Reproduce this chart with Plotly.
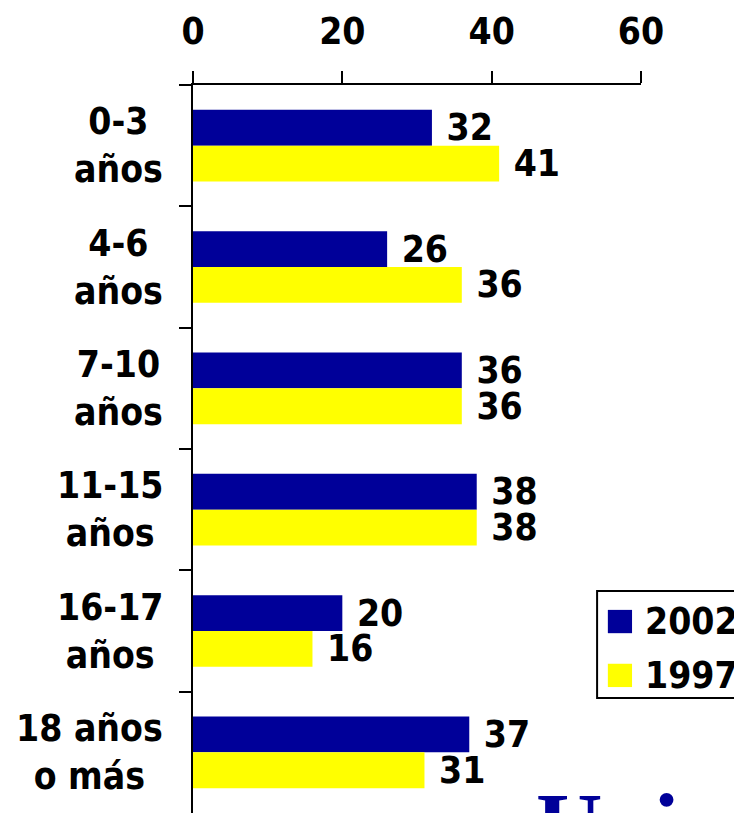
import plotly.graph_objects as go

# datos
categorias = ["0-3<br>años", "4-6<br>años", "7-10<br>años", "11-15<br>años",
              "16-17<br>años", "18 años<br>o más"]
series = ["2002", "1997"]
valores_2002 = [32, 26, 36, 38, 20, 37]
valores_1997 = [41, 36, 36, 38, 16, 31]
ticks_x = [0, 20, 40, 60]

AZUL = "#000099"
AMARILLO = "#FFFF00"
FUENTE = "DejaVu Sans Condensed, DejaVu Sans"
TAM = 37

fig = go.Figure()

for nombre, vals, color in [(series[0], valores_2002, AZUL), (series[1], valores_1997, AMARILLO)]:
    fig.add_trace(go.Bar(
        y=categorias, x=vals, orientation="h", name=nombre,
        marker=dict(color=color, line=dict(width=0)),
        text=vals, texttemplate=" %{x}", textposition="outside",
        textfont=dict(family=FUENTE, size=TAM, color="black", weight="bold"),
        constraintext="none", cliponaxis=False, showlegend=False,
    ))

# etiquetas de categoria centradas (multilinea)
for c in categorias:
    fig.add_annotation(xref="paper", x=0, xshift=-28, xanchor="right",
                       yref="y", y=c, text=c, showarrow=False, align="center",
                       font=dict(family=FUENTE, size=TAM, color="black", weight="bold"))

# leyenda manual
fig.add_shape(type="rect", xref="paper", yref="paper", x0=0.902, x1=1.3, y0=0.158, y1=0.305,
              line=dict(color="black", width=2), fillcolor="white", layer="above")
for i, (nombre, color) in enumerate([(series[0], AZUL), (series[1], AMARILLO)]):
    y0 = 0.247 - i * 0.074
    fig.add_shape(type="rect", xref="paper", yref="paper", x0=0.926, x1=0.980, y0=y0, y1=y0 + 0.032,
                  line=dict(width=0), fillcolor=color, layer="above")
    fig.add_annotation(xref="paper", yref="paper", x=1.005, xanchor="left", y=y0 + 0.016,
                       yanchor="middle", text=nombre, showarrow=False,
                       font=dict(family=FUENTE, size=TAM, color="black", weight="bold"))

# texto cortado abajo
fig.add_annotation(xref="paper", yref="paper", x=0.762, xanchor="left", y=0.056, yanchor="top",
                   text="Uni", showarrow=False,
                   font=dict(family="Liberation Serif", size=92, color=AZUL, weight="bold"))

fig.update_layout(
    width=742, height=813,
    barmode="group", bargap=0.41, bargroupgap=0,
    plot_bgcolor="white", paper_bgcolor="white",
    # la pagina deja 8px de margen en el body
    margin=dict(l=185, r=109, t=77, b=8),
    xaxis=dict(side="top", range=[0, 60], tickvals=ticks_x, showgrid=False, zeroline=False,
               showline=True, linecolor="black", linewidth=2, automargin=False,
               ticks="outside", ticklen=12, tickwidth=2, tickcolor="black",
               ticklabelstandoff=12,
               tickfont=dict(family=FUENTE, size=TAM, color="black", weight="bold")),
    yaxis=dict(autorange="reversed", showgrid=False, zeroline=False, showticklabels=False,
               showline=True, linecolor="black", linewidth=2, automargin=False,
               ticks="outside", ticklen=12, tickwidth=2, tickcolor="black", tickson="boundaries"),
)

fig.write_html("out.html")
